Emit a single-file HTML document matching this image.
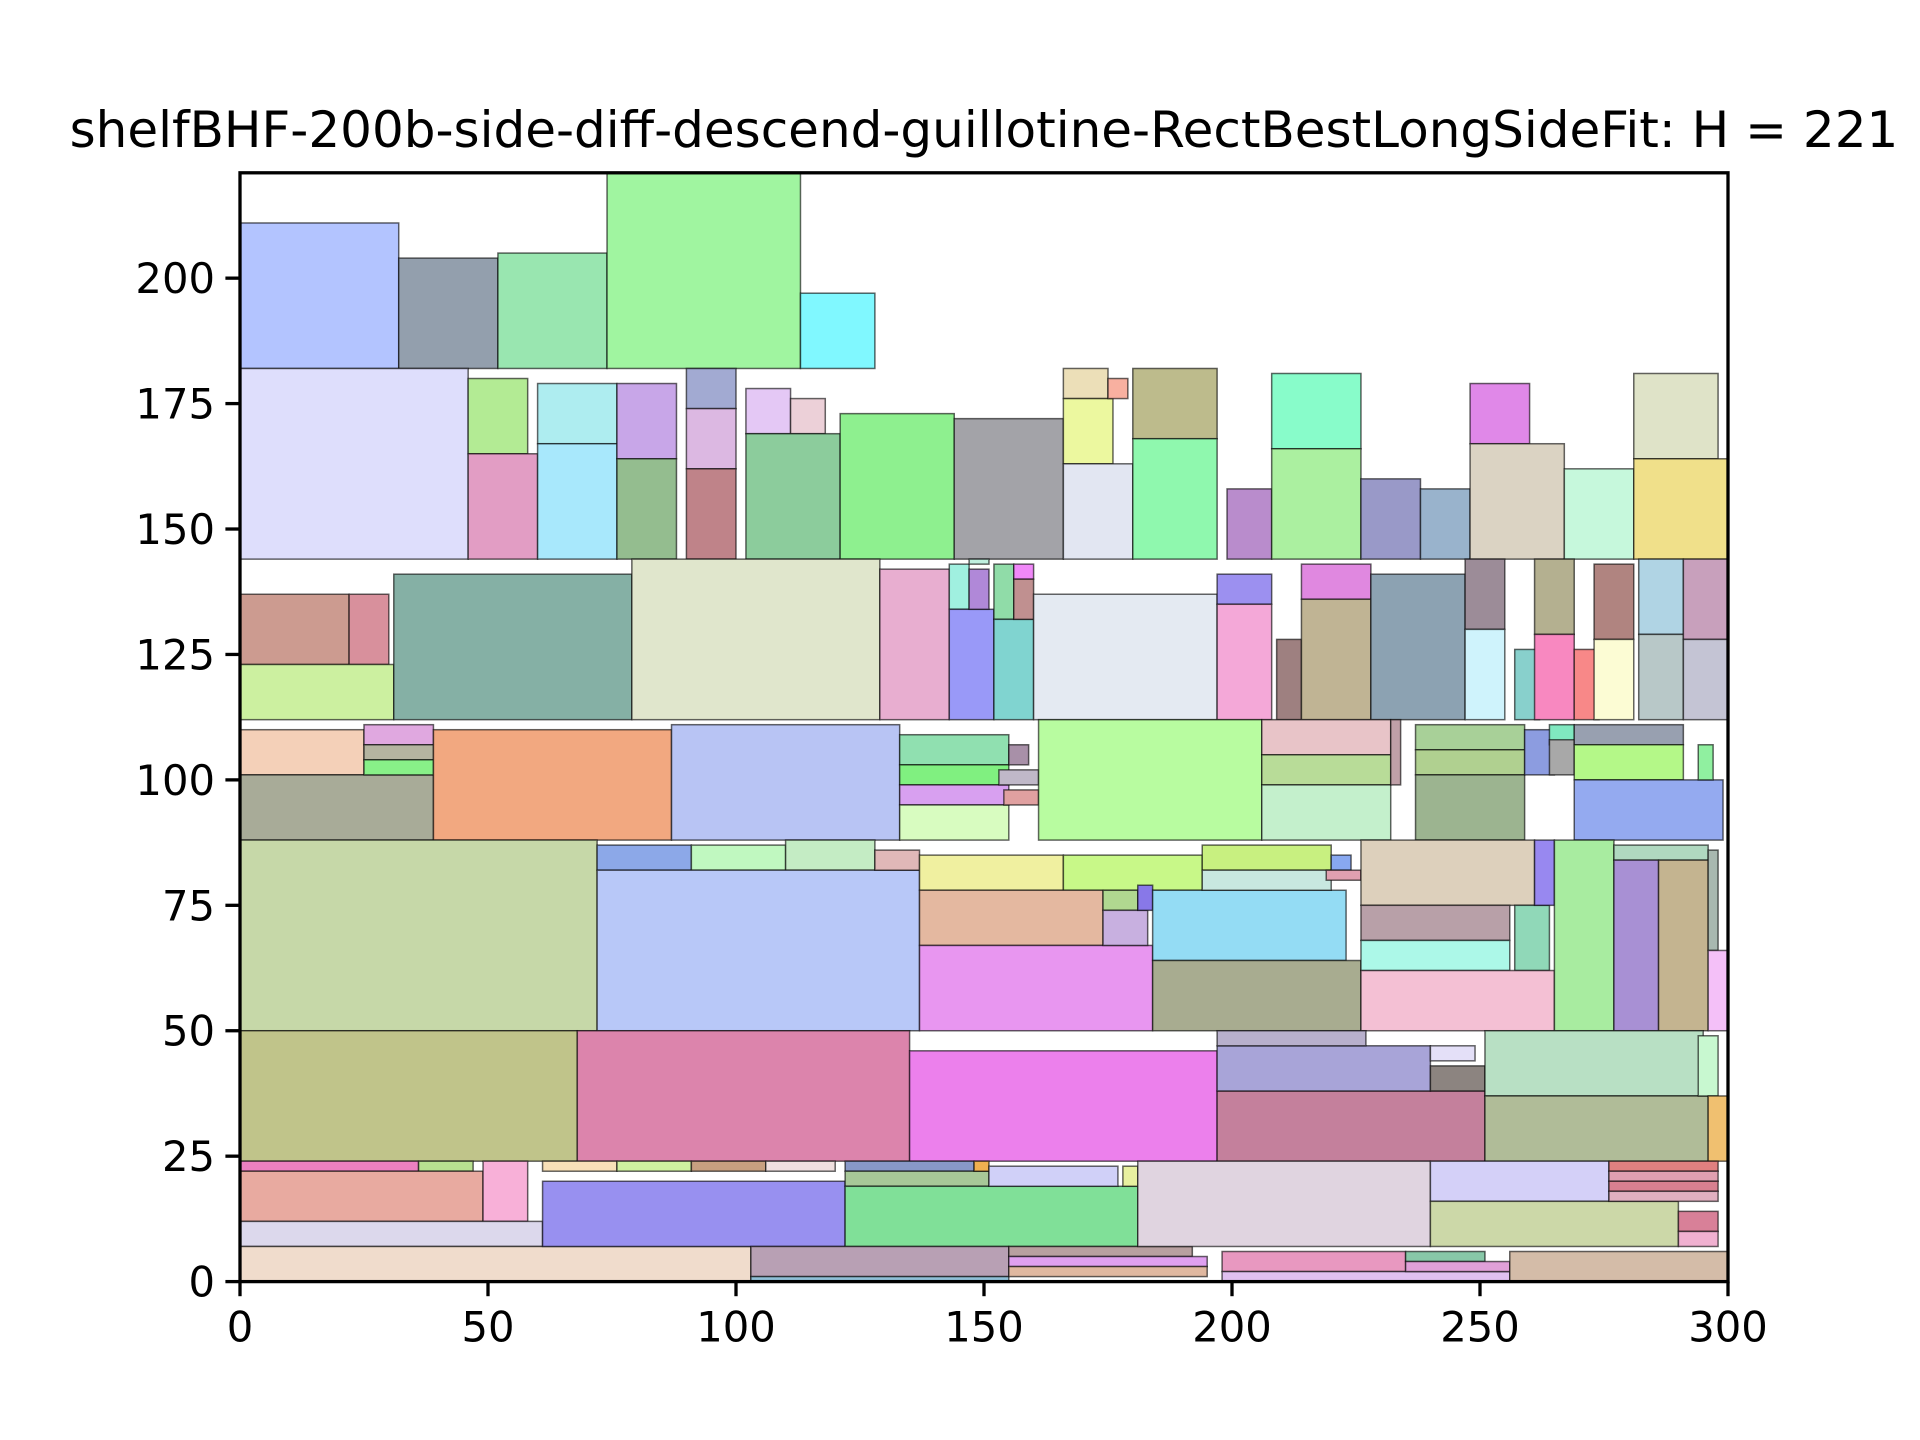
<!DOCTYPE html>
<html><head><meta charset="utf-8"><style>
html,body{margin:0;padding:0;background:#fff;}
svg{display:block;}
text{font-family:"DejaVu Sans","Liberation Sans",sans-serif;fill:#000;}
</style></head><body>
<svg id="chart" width="1920" height="1440" viewBox="0 0 1920 1440" xmlns="http://www.w3.org/2000/svg">
<rect x="0" y="0" width="1920" height="1440" fill="#fff"/>
<text x="984" y="147" font-size="50" text-anchor="middle">shelfBHF-200b-side-diff-descend-guillotine-RectBestLongSideFit: H = 221</text>
<g id="rects"></g>
<g id="axes"></g>
</svg>
<script>
const xTicks=[0,50,100,150,200,250,300];
const yTicks=[0,25,50,75,100,125,150,175,200];
const rx=[0,32,52,74,113, 0,46,46,60,60,76,76,90,90,90,102,111,102,121,144,166,166,175,166,180,180,199,208,208,226,238,248,248,267,281,281,
0,22,0,31,79,129,143,143,147,147,152,152,156,156,160,197,197,209,214,214,228,247,247,257,261,261,269,273,273,282,282,291,291,
0,0,25,25,25,39,87,133,133,133,133,155,153,154,161,206,206,206,232,237,237,237,259,264,264,269,269,269,294,
0,72,91,110,72,128,137,166,137,137,174,174,181,184,184,194,194,220,219,226,226,226,257,226,261,265,277,277,286,296,296,
0,68,135,197,197,197,240,240,251,251,294,296,
0,36,0,49,0,0,61,76,91,106,61,122,122,148,122,151,178,103,103,155,155,155,181,240,240,198,198,235,235,256,276,276,276,276,290,290];
const ry=[182,182,182,182,182,144,165,144,167,144,164,144,174,162,144,169,169,144,144,144,176,163,176,144,168,144,144,166,144,144,144,167,144,144,164,144,
123,123,112,112,112,112,134,112,134,143,132,112,140,132,112,135,112,112,136,112,112,130,112,112,129,112,112,128,112,129,112,128,112,
101,88,107,104,101,88,88,103,99,95,88,103,99,95,88,105,99,88,99,106,101,88,101,107,101,107,100,88,100,
50,82,82,82,50,82,78,78,67,50,74,67,74,64,50,82,78,82,80,75,68,62,62,50,75,50,84,50,50,66,50,
24,24,24,24,38,47,38,44,37,24,37,24,
22,22,12,12,7,0,22,22,22,22,7,22,19,22,7,19,19,1,0,5,3,1,7,16,7,2,0,4,2,0,22,20,18,16,10,7];
const rw=[32,20,22,39,15,46,12,14,16,16,12,12,10,10,10,9,7,19,23,22,9,10,4,14,17,17,9,18,18,12,10,12,19,14,17,19,
22,8,31,48,50,14,4,9,4,4,4,8,4,4,37,11,11,5,14,14,19,8,8,5,8,8,5,8,8,9,9,9,9,
25,39,14,14,14,48,46,22,22,22,22,4,8,7,45,26,26,26,2,22,22,22,6,5,5,22,22,30,3,
72,19,19,18,65,9,29,28,37,47,7,9,3,39,42,26,26,4,7,35,30,30,7,39,4,12,19,9,10,2,4,
68,67,62,54,43,30,11,9,44,45,4,4,
36,11,49,9,61,103,15,15,15,14,61,26,29,3,59,26,3,52,52,37,40,40,59,36,50,37,58,16,21,44,22,22,22,22,8,8];
const rh=[29,22,23,39,15,38,15,21,12,23,15,20,8,12,18,9,7,25,29,28,6,13,4,19,14,24,14,15,22,16,14,12,23,18,17,20,
14,14,11,29,32,30,9,22,8,1,11,20,3,8,25,6,23,16,7,24,29,14,18,14,15,17,14,15,16,15,17,16,16,
9,13,4,3,3,22,23,6,4,4,7,4,3,3,24,7,6,11,13,5,5,13,9,4,7,4,7,12,7,
38,5,5,6,32,4,7,7,11,17,4,7,5,14,14,5,4,3,2,13,7,6,13,12,13,38,3,34,34,20,16,
26,26,22,14,9,3,5,3,13,13,12,13,
2,2,10,12,5,7,2,2,2,2,13,2,3,2,12,4,4,6,1,2,2,2,17,8,9,4,2,2,2,6,2,2,2,2,4,3];
const rc=["#b3c4ff","#939fad","#99e6b0","#a0f5a0","#80f8ff","#dedefc","#b3eb94","#e29dc4","#aeedf0","#a8e8fc","#c8a6e8","#94bd8f","#a2aad2","#dcb8e2","#bf8389","#e4c8f5","#ecd0d8","#8ccc9c","#8ef08f","#a3a3a8","#ecdfb8","#ecf89f","#f8b0a0","#e2e6f2","#bdbb8c","#8ff8ae","#b98ccc","#88fcca","#abf0a0","#9999c8","#99b3cc","#e088e8","#dbd3c3","#c6f8dc","#dfe3c8","#f0e08a",
"#cc9b90","#d8909c","#ccf0a0","#85b0a5","#e0e6cc","#e8aed0","#a0f0e0","#9999f8","#b088d8","#c0f0e0","#90dca8","#80d4d0","#f088f8","#c09090","#e4eaf2","#9c90f0","#f4a8d8","#9e8080","#e088e0","#c0b494","#8ca2b2","#9c8c98","#cff3fc","#88d0cc","#b4b090","#f888c0","#f88888","#b08480","#fcfcd4","#b0d4e4","#b8c8c8","#c8a0bc","#c4c4d4",
"#f4d0b8","#a8ab98","#e0a8e0","#b4b4a0","#88f088","#f2a880","#b8c4f4","#90e0b0","#80f080","#d8a0f0","#d8fcc0","#a890a8","#c0b8c8","#e0a0a0","#b8fca0","#e8c4c8","#b8dc98","#c4f0cc","#c0a0a8","#a8d098","#b0d090","#9cb490","#8c9ce0","#80e8c0","#a8a8a8","#98a0b0","#b4f888","#94aaf0","#90f0a0",
"#c6d8a8","#8ca8e8","#c0f8c0","#c4ecc4","#b8c8f8","#e0b8b8","#f0f0a0","#c8f888","#e4b8a0","#e896f0","#b0d890","#c8b0e0","#8878e8","#94dcf4","#a8ac90","#c8f080","#c8e8e0","#88a8f0","#e0a0b0","#ddd0bc","#b8a0a8","#acf8e8","#90d8b8","#f4c0d4","#9888f0","#a8eca0","#b0d8c0","#a890d4","#c4b490","#a8b8b0","#f4c0f8",
"#c0c48a","#dc84ac","#ec80ec","#c4809c","#a8a4d8","#b8b0cc","#8c8480","#e4e0f8","#b8e0c4","#b0bc98","#c8f8d0","#f0c070",
"#ec80c0","#b8e090","#e8aaa0","#f8b0d8","#dcd8ec","#f0dccc","#f8e0b8","#d0f0a0","#c8a080","#f0e0e0","#9890f0","#8898c8","#a8c898","#f0b050","#80e098","#d0d0f8","#e8f0a0","#b8a0b4","#90c0d8","#b8a0a0","#e0a0f0","#e0b8a0","#e0d4e0","#d4d0f8","#ccd8a8","#e898c0","#e0c0f0","#88c8a8","#e0a0d8","#d4bca8","#e08080","#e0a0b0","#d88090","#e0b0c0","#d88098","#f0b0d0"];
const L=240,R=1728,T=172.8,B=1281.6,XMAX=300,YMAX=221;
function sx(v){return L+(R-L)*v/XMAX;}
function sy(v){return B-(B-T)*v/YMAX;}
const NS="http://www.w3.org/2000/svg";
const g=document.getElementById('rects');
for(let i=0;i<rx.length;i++){
  const r=document.createElementNS(NS,'rect');
  
  
  r.setAttribute('x',sx(rx[i]));r.setAttribute('y',sy(ry[i]+rh[i]));
  r.setAttribute('width',sx(rx[i]+rw[i])-sx(rx[i]));r.setAttribute('height',sy(ry[i])-sy(ry[i]+rh[i]));
  r.setAttribute('fill',rc[i]);r.setAttribute('stroke','rgba(0,0,0,0.6)');r.setAttribute('stroke-width','1.5');
  g.appendChild(r);
}
const a=document.getElementById('axes');
const fr=document.createElementNS(NS,'rect');


fr.setAttribute('x',L);fr.setAttribute('y',T);fr.setAttribute('width',R-L);fr.setAttribute('height',B-T);
fr.setAttribute('fill','none');fr.setAttribute('stroke','#000');fr.setAttribute('stroke-width','3.3');
a.appendChild(fr);
xTicks.forEach(v=>{
  const l=document.createElementNS(NS,'line');
  
  
  l.setAttribute('x1',sx(v));l.setAttribute('x2',sx(v));l.setAttribute('y1',B);l.setAttribute('y2',B+14.6);
  l.setAttribute('stroke','#000');l.setAttribute('stroke-width','3.3');a.appendChild(l);
  const t=document.createElementNS(NS,'text');
  
  
  t.setAttribute('x',sx(v));t.setAttribute('y',B+60);t.setAttribute('font-size','41.7');t.setAttribute('text-anchor','middle');
  t.textContent=v;a.appendChild(t);
});
yTicks.forEach(v=>{
  const l=document.createElementNS(NS,'line');
  
  
  l.setAttribute('x1',L-14.6);l.setAttribute('x2',L);l.setAttribute('y1',sy(v));l.setAttribute('y2',sy(v));
  l.setAttribute('stroke','#000');l.setAttribute('stroke-width','3.3');a.appendChild(l);
  const t=document.createElementNS(NS,'text');
  
  
  t.setAttribute('x',L-25);t.setAttribute('y',sy(v)+15);t.setAttribute('font-size','41.7');t.setAttribute('text-anchor','end');
  t.textContent=v;a.appendChild(t);
});
</script>
</body></html>
